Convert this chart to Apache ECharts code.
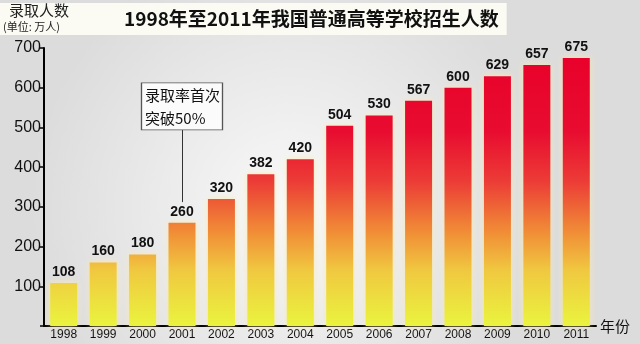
<!DOCTYPE html>
<html><head><meta charset="utf-8">
<script src="https://cdn.jsdelivr.net/npm/echarts@6/dist/echarts.min.js"></script>
<style>html,body{margin:0;padding:0;}#c{width:640px;height:344px;}</style>
</head><body><div id="c"></div>
<script>
var years = ['1998','1999','2000','2001','2002','2003','2004','2005','2006','2007','2008','2009','2010','2011'];
var enrolment = [108,160,180,260,320,382,420,504,530,567,600,629,657,675];
var yTicks = [100,200,300,400,500,600,700];
var noteText = '录取率首次\n突破50%';
var noteYear = '2001';

var chart = echarts.init(document.getElementById('c'));
var barGradient = {type:'linear', x:0, y:326, x2:0, y2:48, global:true, colorStops:[
  {offset:0, color:'#eaf43e'},
  {offset:0.2, color:'#f0c840'},
  {offset:0.35, color:'#f08836'},
  {offset:0.52, color:'#ec3c36'},
  {offset:0.7, color:'#e80c30'},
  {offset:1, color:'#e8002a'}
]};
chart.setOption({
  backgroundColor: {type:'radial', x:0.45, y:0.6, r:0.75, colorStops:[{offset:0,color:'#f9f9f9'},{offset:1,color:'#dcdcdc'}]},
  animation:false,
  title:[
    {text:'1998年至2011年我国普通高等学校招生人数', left:0, top:3,
     padding:[5,8,5,124], backgroundColor:'#fbfbf4',
     textStyle:{fontFamily:'Noto Sans CJK SC', fontWeight:'bold', fontSize:19, color:'#111', lineHeight:22}},
    {text:'录取人数', left:9, top:3, padding:0,
     textStyle:{fontFamily:'Noto Sans CJK SC', fontWeight:'normal', fontSize:15, color:'#222'}},
    {text:'(单位: 万人)', left:3, top:21, padding:0,
     textStyle:{fontFamily:'Noto Sans CJK SC', fontWeight:'normal', fontSize:11, color:'#222'}}
  ],
  grid:{left:44, right:44, top:48, bottom:18},
  xAxis:{type:'category', data:years,
    axisLine:{lineStyle:{color:'#000', width:2}},
    axisTick:{show:false},
    axisLabel:{color:'#111', fontSize:12, fontFamily:'Liberation Sans', margin:3},
    name:'年份', nameLocation:'end', nameGap:4,
    nameTextStyle:{color:'#111', fontSize:15, fontFamily:'Noto Sans CJK SC', verticalAlign:'middle'}},
  yAxis:{type:'value', min:0, max:700, interval:100,
    splitLine:{show:false},
    axisLine:{show:true, lineStyle:{color:'#000', width:2}},
    axisTick:{show:true, length:4, lineStyle:{color:'#000', width:1.5}},
    axisLabel:{color:'#111', fontSize:16, fontFamily:'Liberation Sans', margin:3,
      formatter:function(v){return yTicks.indexOf(v)>=0 ? String(v) : '';}}},
  series:[{
    type:'bar', data:enrolment, barWidth:27,
    itemStyle:{color:barGradient, shadowBlur:6, shadowColor:'rgba(255,235,160,0.8)'},
    label:{show:true, position:'top', distance:4, color:'#111', fontSize:14, fontWeight:'bold', fontFamily:'Liberation Sans'},
    markLine:{silent:true, symbol:'none', label:{show:false},
      lineStyle:{color:'#333', width:1, type:'solid'},
      data:[[{coord:[noteYear,312]},{coord:[noteYear,494]}]]},
    markPoint:{silent:true, symbol:'rect', symbolSize:[81,47],
      itemStyle:{color:'#fbfbfb', borderColor:'#555', borderWidth:1},
      label:{show:true, formatter:noteText, color:'#111', fontSize:15, lineHeight:23,
        fontFamily:'Noto Sans CJK SC', align:'left', offset:[-37,0]},
      data:[{coord:[noteYear,553], value:''}]}
  }]
});
</script></body></html>
